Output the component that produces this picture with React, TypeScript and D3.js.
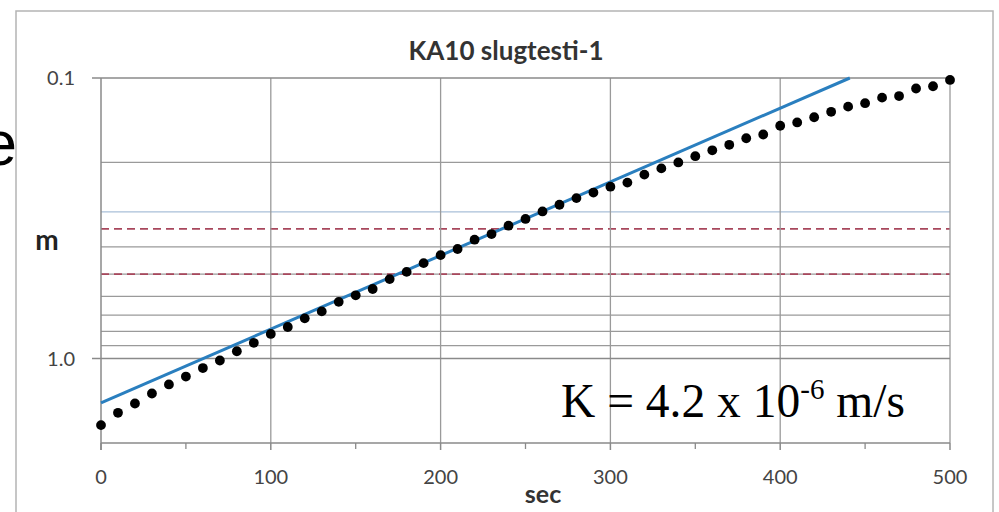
import React from "react";
import * as d3 from "d3";

const TITLE = "KA10 slugtesti-1";
const X_LABEL = "sec";
const Y_LABEL = "m";

const times = [0, 10, 20, 30, 40, 50, 60, 70, 80, 90, 100, 110, 120, 130, 140, 150, 160, 170, 180, 190, 200, 210, 220, 230, 240, 250, 260, 270, 280, 290, 300, 310, 320, 330, 340, 350, 360, 370, 380, 390, 400, 410, 420, 430, 440, 450, 460, 470, 480, 490, 500];
const heads = [1.727, 1.561, 1.446, 1.332, 1.237, 1.159, 1.081, 1.016, 0.942, 0.879, 0.817, 0.772, 0.719, 0.679, 0.628, 0.595, 0.565, 0.521, 0.491, 0.457, 0.428, 0.407, 0.377, 0.36, 0.336, 0.318, 0.299, 0.283, 0.268, 0.256, 0.244, 0.236, 0.221, 0.21, 0.2, 0.19, 0.181, 0.173, 0.164, 0.159, 0.148, 0.144, 0.138, 0.132, 0.1265, 0.123, 0.1175, 0.116, 0.109, 0.107, 0.1016];

const fitTimes = [0, 441];
const fitHeads = [1.438, 0.1];

const xTicks = [0, 100, 200, 300, 400, 500];
const xMinorTicks = [50, 150, 250, 350, 450];
const yTickValues = [0.1, 1.0];
const yTickLabels = ["0.1", "1.0"];
const yGridValues = [0.2, 0.4, 0.5, 0.6, 0.7, 0.8, 0.9];
const yBlueGrid = [0.3];
const redDashed = [0.345, 0.5];

export default function App() {
  const W = 999, H = 512;
  const L = 101, R = 950, T = 78, B = 443;
  const x = d3.scaleLinear().domain([0, 500]).range([L, R]);
  const y = d3.scaleLog().domain([0.1, 2]).range([T, B]);
  const line = d3.line<[number, number]>().x(d => x(d[0])).y(d => y(d[1]));
  const fitPts: [number, number][] = fitTimes.map((t, i) => [t, fitHeads[i]]);
  const grid = "#9a9a9a";
  const sans = "Lato, 'Open Sans', sans-serif";

  return (
    <svg width={W} height={H} style={{ position: "absolute", left: 0, top: 0, background: "#fff" }}>
      <rect x={0} y={0} width={W} height={H} fill="#fff" />
      {/* cropped text on left */}
      <text x={17} y={165} textAnchor="end" fontFamily="'Liberation Sans', Arial, sans-serif" fontSize={63} fill="#000">e</text>
      {/* outer chart frame */}
      <rect x={16} y={11} width={977} height={510} fill="none" stroke="#b4b4b4" strokeWidth={1.5} />
      {/* title */}
      <text x={506} y={60} textAnchor="middle" fontFamily={sans} fontWeight={700} fontSize={26} fill="#333">{TITLE}</text>

      {/* horizontal gridlines */}
      {yGridValues.map(v => (
        <line key={"g" + v} x1={L} x2={R} y1={y(v)} y2={y(v)} stroke={grid} strokeWidth={1.2} />
      ))}
      {yBlueGrid.map(v => (
        <line key={"b" + v} x1={L} x2={R} y1={y(v)} y2={y(v)} stroke="#a9bfd8" strokeWidth={1.3} />
      ))}
      {redDashed.map(v => (
        <line key={"r" + v} x1={L} x2={R} y1={y(v)} y2={y(v)} stroke="#a8475c" strokeWidth={1.8} strokeDasharray="8,5" />
      ))}
      {/* vertical gridlines */}
      {xTicks.filter(t => t > 0).map(t => (
        <line key={"v" + t} x1={x(t)} x2={x(t)} y1={T} y2={B} stroke={grid} strokeWidth={1.3} />
      ))}
      {/* top gridline & 1.0 line */}
      {yTickValues.map(v => (
        <line key={"yt" + v} x1={L - 9} x2={R} y1={y(v)} y2={y(v)} stroke="#8a8a8a" strokeWidth={1.5} />
      ))}
      {/* axes */}
      <line x1={L} x2={L} y1={T} y2={B + 7} stroke="#8a8a8a" strokeWidth={1.5} />
      <line x1={L} x2={R} y1={B} y2={B} stroke="#8a8a8a" strokeWidth={1.5} />
      {xTicks.map(t => (
        <line key={"xt" + t} x1={x(t)} x2={x(t)} y1={B} y2={B + 7} stroke="#8a8a8a" strokeWidth={1.5} />
      ))}
      {xMinorTicks.map(t => (
        <line key={"xm" + t} x1={x(t)} x2={x(t)} y1={B} y2={B + 6} stroke="#8a8a8a" strokeWidth={1.3} />
      ))}
      {/* tick labels */}
      {xTicks.map(t => (
        <text key={"xl" + t} x={x(t)} y={484} textAnchor="middle" fontFamily={sans} fontSize={20} fill="#444">{t}</text>
      ))}
      {yTickValues.map((v, i) => (
        <text key={"yl" + v} x={75} y={y(v) + 7} textAnchor="end" fontFamily={sans} fontSize={20} fill="#444">{yTickLabels[i]}</text>
      ))}
      <text x={543} y={503} textAnchor="middle" fontFamily={sans} fontWeight={700} fontSize={25} fill="#333">{X_LABEL}</text>
      <text x={47} y={250} textAnchor="middle" fontFamily={sans} fontWeight={700} fontSize={28} fill="#222">{Y_LABEL}</text>

      {/* fit line */}
      <path d={line(fitPts) || ""} fill="none" stroke="#2a7fbf" strokeWidth={3} />
      {/* data points */}
      {times.map((t, i) => (
        <circle key={"p" + t} cx={x(t)} cy={y(heads[i])} r={4.9} fill="#000" />
      ))}

      {/* K annotation */}
      <text x={561} y={417} fontFamily="'Liberation Serif', 'Times New Roman', serif" fontSize={47.5} fill="#000">
        K = 4.2 x 10<tspan fontSize={29} dy={-18}>-6</tspan><tspan dy={18}> m/s</tspan>
      </text>
    </svg>
  );
}
